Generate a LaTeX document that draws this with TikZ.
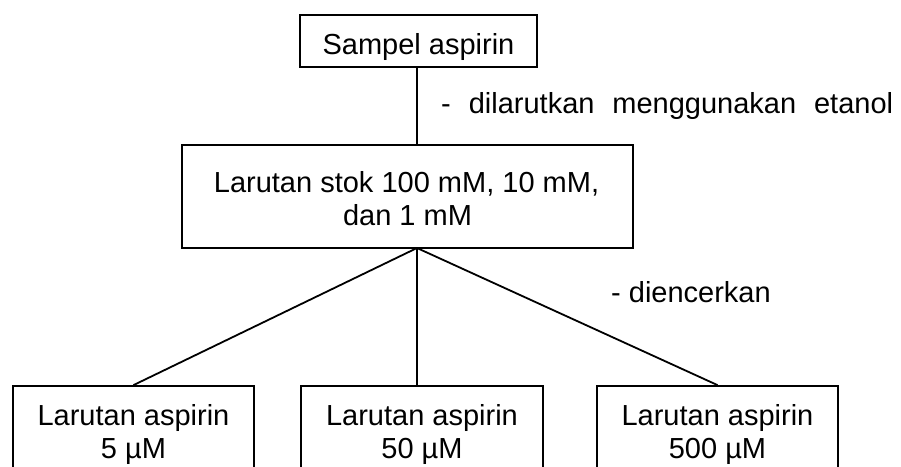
\documentclass[tikz,border=0pt]{standalone}
\usepackage{fontspec}
\setmainfont{Liberation Sans}
\begin{document}
\begin{tikzpicture}[x=1pt,y=-1pt,
  box/.style={draw, line width=1.8pt, inner sep=0pt},
  txt/.style={anchor=base, inner sep=0pt, font=\fontsize{29}{33}\selectfont},
  lbl/.style={anchor=base west, inner sep=0pt, font=\fontsize{29}{33}\selectfont},
  ln/.style={line width=1.8pt}]
\useasboundingbox (0,0) rectangle (901,466);
\clip (0,0) rectangle (901,466);
% boxes
\node[box, minimum width=237pt, minimum height=52pt] (top) at (418.5,41) {};
\node[txt] (topt) at (418.5,54) {Sampel aspirin};
\node[box, minimum width=451pt, minimum height=103pt] (mid) at (407.5,196.5) {};
\node[txt] (midt1) at (406.5,192) {Larutan stok 100 mM, 10 mM,};
\node[txt] (midt2) at (407.5,225) {dan 1 mM};
\node[box, minimum width=241pt, minimum height=94pt] (b1) at (133.5,433) {};
\node[box, minimum width=242pt, minimum height=94pt] (b2) at (422,433) {};
\node[box, minimum width=241pt, minimum height=94pt] (b3) at (717.5,433) {};
\node[txt] (b1a) at (133.5,425) {Larutan aspirin};
\node[txt] (b1b) at (133.5,458) {5 µM};
\node[txt] (b2a) at (422,425) {Larutan aspirin};
\node[txt] (b2b) at (422,458) {50 µM};
\node[txt] (b3a) at (717.5,425) {Larutan aspirin};
\node[txt] (b3b) at (717.5,458) {500 µM};
% labels
\node[lbl] (l1) at (441,113) {\makebox[452pt][s]{- dilarutkan menggunakan etanol}};
\node[lbl] (l2) at (611,302) {- diencerkan};
% connectors
\coordinate (j) at (417,248);
\draw[ln] (top.south -| j) -- (mid.north -| j);
\draw[ln] (j) -- (b1.north);
\draw[ln] (j) -- (b2.north -| j);
\draw[ln] (j) -- (b3.north);
\end{tikzpicture}
\end{document}
